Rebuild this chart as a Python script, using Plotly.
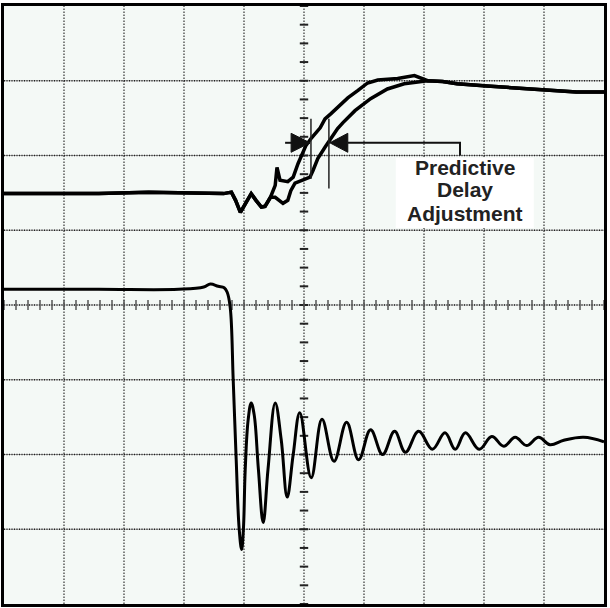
import plotly.graph_objects as go

# ---- data (oscilloscope divisions: x -5..5, y -4..4) ----
# shared start of the two rising traces
up_head_x = [-5.0, -4.25, -3.42, -2.59, -1.76, -1.34, -1.21, -1.14, -1.06, -0.98, -0.88, -0.80, -0.71, -0.65, -0.56]
up_head_y = [1.49, 1.49, 1.49, 1.51, 1.49, 1.49, 1.51, 1.40, 1.24, 1.36, 1.49, 1.40, 1.31, 1.32, 1.44]

# faster rising trace
fast_x = [-0.48, -0.45, -0.40, -0.27, -0.18, -0.10, 0.03, 0.12, 0.27, 0.35, 0.45, 0.56, 0.73, 0.90, 1.06, 1.23, 1.56, 1.84]
fast_y = [1.60, 1.84, 1.67, 1.65, 1.71, 1.89, 2.13, 2.23, 2.37, 2.49, 2.56, 2.64, 2.77, 2.87, 2.97, 3.01, 3.03, 3.07]

# delayed rising trace
slow_x = [-0.48, -0.35, -0.27, -0.22, -0.15, -0.02, 0.10, 0.15, 0.23, 0.35, 0.45, 0.56, 0.65, 0.85, 1.11, 1.39, 1.67, 2.01]
slow_y = [1.44, 1.36, 1.40, 1.53, 1.63, 1.67, 1.71, 1.80, 1.96, 2.11, 2.23, 2.36, 2.44, 2.60, 2.76, 2.89, 2.96, 3.00]

# shared settled tail
up_tail_x = [2.06, 2.31, 2.55, 3.05, 3.43, 4.00, 4.54, 5.0]
up_tail_y = [3.00, 2.99, 2.96, 2.93, 2.91, 2.87, 2.85, 2.85]

# falling trace with damped ringing
low_x = [-5.0, -3.42, -2.09, -1.67, -1.56, -1.43, -1.33, -1.28, -1.23, -1.18, -1.13, -1.08, -1.04, -1.01,
         -0.98, -0.93, -0.88, -0.83, -0.76, -0.68, -0.60, -0.48, -0.38, -0.28, -0.18, -0.07, 0.12, 0.30,
         0.50, 0.71, 0.91, 1.11, 1.31, 1.51, 1.69, 1.91, 2.14, 2.35, 2.52, 2.69, 2.92, 3.13, 3.33, 3.52,
         3.71, 3.91, 4.10, 4.33, 4.66, 5.0]
low_y = [0.21, 0.21, 0.21, 0.24, 0.28, 0.25, 0.23, 0.17, -0.03, -1.00, -2.07, -3.00, -3.27, -3.00,
         -2.21, -1.53, -1.31, -1.47, -2.20, -2.91, -2.20, -1.31, -1.80, -2.57, -2.00, -1.44, -2.31, -1.53,
         -2.09, -1.57, -2.07, -1.67, -2.00, -1.69, -1.97, -1.69, -1.93, -1.71, -1.93, -1.71, -1.93, -1.76, -1.89, -1.77,
         -1.88, -1.77, -1.87, -1.81, -1.77, -1.83]

label_lines = ["Predictive", "Delay", "Adjustment"]
label_y = [1.84, 1.54, 1.23]
label_x = 2.68

# annotation geometry (divisions)
arrow_y = 2.17
left_tip, left_base, left_tail = 0.10, -0.215, -0.315
right_tip, right_base, right_end = 0.43, 0.73, 2.60
right_drop = 2.0
head_half = 0.127
marker1_x, marker1_y0, marker1_y1 = 0.116, 1.69, 2.49
marker2_x, marker2_y0, marker2_y1 = 0.415, 1.56, 2.49
box_x0, box_x1, box_y0, box_y1 = 1.53, 3.83, 1.03, 1.97

fig = go.Figure()

shapes = []
# horizontal grid lines
for gy in range(-3, 4):
    shapes.append(dict(type="line", xref="x", yref="y", x0=-5, x1=5, y0=gy, y1=gy,
                       line=dict(color="#9a9a9a", width=1), layer="below"))
    shapes.append(dict(type="line", xref="x", yref="y", x0=-5, x1=5, y0=gy, y1=gy,
                       line=dict(color="#222222", width=1.6, dash="1px,1.5px"), layer="below"))
# vertical grid lines
for gx in range(-4, 5):
    shapes.append(dict(type="line", xref="x", yref="y", x0=gx, x1=gx, y0=-4, y1=4,
                       line=dict(color="#333333", width=1.2, dash="1.5px,1.5px"), layer="below"))
# label box
shapes.append(dict(type="rect", xref="x", yref="y", x0=box_x0, x1=box_x1, y0=box_y0, y1=box_y1,
                   fillcolor="white", line=dict(width=0), layer="below"))
# arrows
shapes.append(dict(type="line", xref="x", yref="y", x0=left_tail, x1=left_tip, y0=arrow_y, y1=arrow_y,
                   line=dict(color="#111", width=2)))
shapes.append(dict(type="path", xref="x", yref="y",
                   path=f"M {left_base},{arrow_y - head_half} L {left_tip},{arrow_y} L {left_base},{arrow_y + head_half} Z",
                   fillcolor="#111", line=dict(color="#111", width=1)))
shapes.append(dict(type="path", xref="x", yref="y",
                   path=f"M {right_base},{arrow_y - head_half} L {right_tip},{arrow_y} L {right_base},{arrow_y + head_half} Z",
                   fillcolor="#111", line=dict(color="#111", width=1)))
shapes.append(dict(type="path", xref="x", yref="y",
                   path=f"M {right_base},{arrow_y} L {right_end},{arrow_y} L {right_end},{right_drop}",
                   line=dict(color="#111", width=2)))
shapes.append(dict(type="line", xref="x", yref="y", x0=marker1_x, x1=marker1_x, y0=marker1_y0, y1=marker1_y1,
                   line=dict(color="#222", width=1.5)))
shapes.append(dict(type="line", xref="x", yref="y", x0=marker2_x, x1=marker2_x, y0=marker2_y0, y1=marker2_y1,
                   line=dict(color="#222", width=1.5)))

# center crosshair minor ticks
vt_y = [k * 0.25 for k in range(-16, 17)]
ht_x = [k * 0.2 for k in range(-25, 26)]
fig.add_trace(go.Scatter(x=[0] * len(vt_y), y=vt_y, mode="markers", hoverinfo="skip",
                         marker=dict(symbol="line-ew", size=6, line=dict(color="#222", width=2))))
fig.add_trace(go.Scatter(x=ht_x, y=[0] * len(ht_x), mode="markers", hoverinfo="skip",
                         marker=dict(symbol="line-ns", size=7, line=dict(color="#555", width=1.5))))

# traces
fig.add_trace(go.Scatter(x=up_head_x + slow_x + up_tail_x, y=up_head_y + slow_y + up_tail_y,
                         mode="lines", line=dict(color="black", width=3.5)))
fig.add_trace(go.Scatter(x=up_head_x + fast_x + up_tail_x, y=up_head_y + fast_y + up_tail_y,
                         mode="lines", line=dict(color="black", width=3.5)))
fig.add_trace(go.Scatter(x=low_x, y=low_y, mode="lines",
                         line=dict(color="black", width=3, shape="spline", smoothing=1.1)))

annotations = []
for t, ly in zip(label_lines, label_y):
    annotations.append(dict(x=label_x, y=ly, xref="x", yref="y", text=f"<b>{t}</b>", showarrow=False,
                            font=dict(family="Liberation Sans, Arial", size=21, color="#222"),
                            xanchor="center", yanchor="middle"))

fig.update_layout(
    width=610, height=608,
    margin=dict(l=4, r=3, t=5, b=4),
    paper_bgcolor="white", plot_bgcolor="#F4F9F6",
    showlegend=False, shapes=shapes, annotations=annotations,
)
fig.update_xaxes(range=[-5, 5], showgrid=False, zeroline=False, showticklabels=False, ticks="",
                 showline=True, mirror=True, linecolor="black", linewidth=3)
fig.update_yaxes(range=[-4, 4], showgrid=False, zeroline=False, showticklabels=False, ticks="",
                 showline=True, mirror=True, linecolor="black", linewidth=3)

fig.write_html("out.html", config={"displayModeBar": False},
               post_script="document.body.style.margin='0';document.body.style.padding='0';document.body.style.overflow='hidden';")
